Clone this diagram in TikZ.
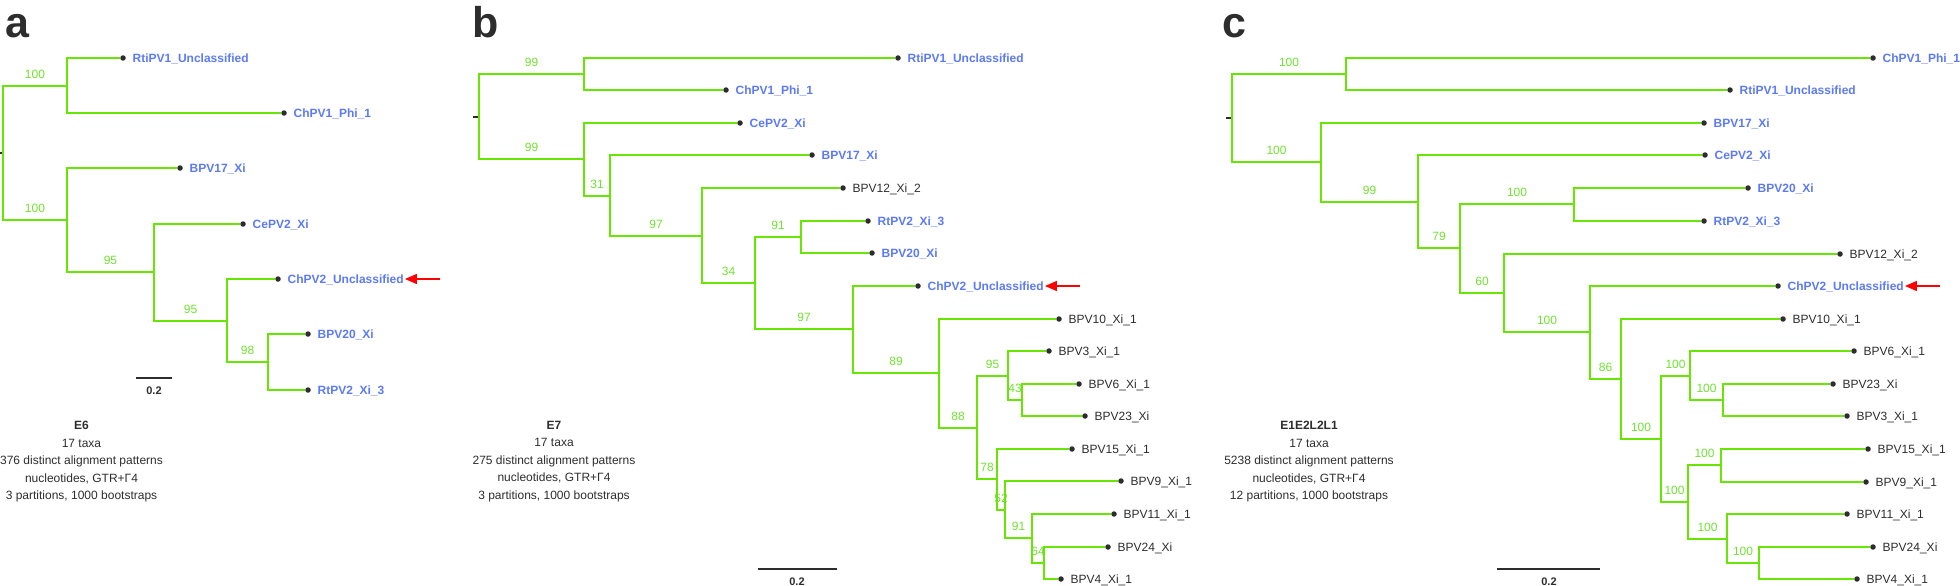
\documentclass[tikz,border=0pt]{standalone}
\usepackage{fontspec}
\setmainfont{Liberation Sans}
\usetikzlibrary{arrows.meta}

\definecolor{branch}{RGB}{102,230,0}
\definecolor{bootgreen}{RGB}{112,226,48}
\definecolor{taxblue}{RGB}{92,122,245}
\definecolor{ink}{RGB}{45,45,45}

\tikzset{
  br/.style={draw= branch, line width= 2pt},
  bs/.style={pos= 0.75, anchor= south, inner sep= 0pt, yshift= 6.5pt, text depth= 0pt,
    text= bootgreen, font= \fontsize{12}{12}\selectfont},
  tip/.style={circle, fill= ink, inner sep= 0pt, minimum size= 5.5pt},
  taxon/.style={anchor= west, inner sep= 1pt, text height= 8.6pt, text depth= 0pt},
  novel/.style={taxon, text= taxblue, font= \fontsize{12}{12}\selectfont\bfseries},
  known/.style={taxon, text= ink, font= \fontsize{12}{12}\selectfont},
  stub/.style={draw= ink, line width= 2pt},
  sbar/.style={draw= ink, line width= 2pt},
  sbarlabel/.style={inner sep= 0pt, text= ink, font= \fontsize{11}{11}\selectfont\bfseries},
  pointer/.style={draw= red, line width= 1.5pt, -{Triangle[length= 12pt, width= 10pt]}},
  panel/.style={anchor= base west, inner sep= 0pt, text= ink, font= \fontsize{43}{43}\selectfont\bfseries},
  caption/.style={anchor= north, align= center, inner sep= 0pt, text= ink, font= \fontsize{12}{17.5}\selectfont}
}

\newcommand{\tipnode}[5]{%
  \node[tip] (#1) at (#2,#3) {};
  \node[#4] (#1L) at ([xshift= 8.5pt]#1.center) {#5};}

\begin{document}
\begin{tikzpicture}[x= 1pt, y= -1pt]
  \useasboundingbox (0,0) rectangle (1960,586);

  % panel a
  \node[panel] (aPanel) at (5,38) {a};
  \coordinate (aStub) at (0,153);
  \coordinate (aR) at (3,153);
  \coordinate (a1) at (67,86);
  \coordinate (a2) at (67,220);
  \coordinate (a3) at (154,272);
  \coordinate (a4) at (227,321);
  \coordinate (a5) at (268,362);
  \tipnode{aRti}{123}{58}{novel}{RtiPV1\_Unclassified}
  \tipnode{aChPV1}{284}{113}{novel}{ChPV1\_Phi\_1}
  \tipnode{aBPV17}{180}{168}{novel}{BPV17\_Xi}
  \tipnode{aCePV2}{243}{224}{novel}{CePV2\_Xi}
  \tipnode{aChPV2}{278}{279}{novel}{ChPV2\_Unclassified}
  \tipnode{aBPV20}{308}{334}{novel}{BPV20\_Xi}
  \tipnode{aRtPV2}{308}{390}{novel}{RtPV2\_Xi\_3}
  \draw[stub] (aStub) -- (aR);
  \draw[br] (aR) |- node[bs] {100} (a1);
  \draw[br] (a1) |- (aRti);
  \draw[br] (a1) |- (aChPV1);
  \draw[br] (aR) |- node[bs] {100} (a2);
  \draw[br] (a2) |- (aBPV17);
  \draw[br] (a2) |- node[bs] {95} (a3);
  \draw[br] (a3) |- (aCePV2);
  \draw[br] (a3) |- node[bs] {95} (a4);
  \draw[br] (a4) |- (aChPV2);
  \draw[br] (a4) |- node[bs] {98} (a5);
  \draw[br] (a5) |- (aBPV20);
  \draw[br] (a5) |- (aRtPV2);
  \coordinate (aTail) at (440,279);
  \draw[pointer] (aTail) -- (aChPV2L);
  \coordinate (aS1) at (136,378);
  \coordinate (aS2) at (172,378);
  \draw[sbar] (aS1) -- (aS2);
  \node[sbarlabel] (aSL) at (154,391) {0.2};
  \node[caption] (aCap) at (81.5,421) {\textbf{E6}\\17 taxa\\376 distinct alignment patterns\\nucleotides, GTR+Γ4\\3 partitions, 1000 bootstraps};

  % panel b
  \node[panel] (bPanel) at (472,38) {b};
  \coordinate (bStub) at (473,117);
  \coordinate (bR) at (479,117);
  \coordinate (b1) at (584,74);
  \coordinate (b2) at (584,159);
  \coordinate (b3) at (610,196);
  \coordinate (b4) at (702,236);
  \coordinate (b5) at (755,283);
  \coordinate (b6) at (801,237);
  \coordinate (b7) at (853,329);
  \coordinate (b8) at (939,373);
  \coordinate (b9) at (977,428);
  \coordinate (b10) at (1008,376);
  \coordinate (b11) at (1022,400);
  \coordinate (b12) at (997,479);
  \coordinate (b13) at (1005,510);
  \coordinate (b14) at (1032,538);
  \coordinate (b15) at (1044,563);
  \tipnode{bRti}{898}{58}{novel}{RtiPV1\_Unclassified}
  \tipnode{bChPV1}{726}{90}{novel}{ChPV1\_Phi\_1}
  \tipnode{bCePV2}{740}{123}{novel}{CePV2\_Xi}
  \tipnode{bBPV17}{812}{155}{novel}{BPV17\_Xi}
  \tipnode{bBPV12}{843}{188}{known}{BPV12\_Xi\_2}
  \tipnode{bRtPV2}{868}{221}{novel}{RtPV2\_Xi\_3}
  \tipnode{bBPV20}{872}{253}{novel}{BPV20\_Xi}
  \tipnode{bChPV2}{918}{286}{novel}{ChPV2\_Unclassified}
  \tipnode{bBPV10}{1059}{319}{known}{BPV10\_Xi\_1}
  \tipnode{bBPV3}{1049}{351}{known}{BPV3\_Xi\_1}
  \tipnode{bBPV6}{1079}{384}{known}{BPV6\_Xi\_1}
  \tipnode{bBPV23}{1085}{416}{known}{BPV23\_Xi}
  \tipnode{bBPV15}{1072}{449}{known}{BPV15\_Xi\_1}
  \tipnode{bBPV9}{1121}{481}{known}{BPV9\_Xi\_1}
  \tipnode{bBPV11}{1114}{514}{known}{BPV11\_Xi\_1}
  \tipnode{bBPV24}{1108}{547}{known}{BPV24\_Xi}
  \tipnode{bBPV4}{1061}{579}{known}{BPV4\_Xi\_1}
  \draw[stub] (bStub) -- (bR);
  \draw[br] (bR) |- node[bs] {99} (b1);
  \draw[br] (b1) |- (bRti);
  \draw[br] (b1) |- (bChPV1);
  \draw[br] (bR) |- node[bs] {99} (b2);
  \draw[br] (b2) |- (bCePV2);
  \draw[br] (b2) |- node[bs] {31} (b3);
  \draw[br] (b3) |- (bBPV17);
  \draw[br] (b3) |- node[bs] {97} (b4);
  \draw[br] (b4) |- (bBPV12);
  \draw[br] (b4) |- node[bs] {34} (b5);
  \draw[br] (b5) |- node[bs] {91} (b6);
  \draw[br] (b6) |- (bRtPV2);
  \draw[br] (b6) |- (bBPV20);
  \draw[br] (b5) |- node[bs] {97} (b7);
  \draw[br] (b7) |- (bChPV2);
  \draw[br] (b7) |- node[bs] {89} (b8);
  \draw[br] (b8) |- (bBPV10);
  \draw[br] (b8) |- node[bs] {88} (b9);
  \draw[br] (b9) |- node[bs] {95} (b10);
  \draw[br] (b10) |- (bBPV3);
  \draw[br] (b10) |- node[bs] {43} (b11);
  \draw[br] (b11) |- (bBPV6);
  \draw[br] (b11) |- (bBPV23);
  \draw[br] (b9) |- node[bs] {78} (b12);
  \draw[br] (b12) |- (bBPV15);
  \draw[br] (b12) |- node[bs] {52} (b13);
  \draw[br] (b13) |- (bBPV9);
  \draw[br] (b13) |- node[bs] {91} (b14);
  \draw[br] (b14) |- (bBPV11);
  \draw[br] (b14) |- node[bs] {64} (b15);
  \draw[br] (b15) |- (bBPV24);
  \draw[br] (b15) |- (bBPV4);
  \coordinate (bTail) at (1080,286);
  \draw[pointer] (bTail) -- (bChPV2L);
  \coordinate (bS1) at (758,569);
  \coordinate (bS2) at (837,569);
  \draw[sbar] (bS1) -- (bS2);
  \node[sbarlabel] (bSL) at (797,582) {0.2};
  \node[caption] (bCap) at (554,421) {\textbf{E7}\\17 taxa\\275 distinct alignment patterns\\nucleotides, GTR+Γ4\\3 partitions, 1000 bootstraps};

  % panel c
  \node[panel] (cPanel) at (1222,38) {c};
  \coordinate (cStub) at (1226,118);
  \coordinate (cR) at (1232,118);
  \coordinate (c1) at (1346,74);
  \coordinate (c2) at (1321,162);
  \coordinate (c3) at (1418,202);
  \coordinate (c4) at (1460,248);
  \coordinate (c5) at (1574,204);
  \coordinate (c6) at (1504,293);
  \coordinate (c7) at (1590,332);
  \coordinate (c8) at (1621,379);
  \coordinate (c9) at (1661,439);
  \coordinate (c10) at (1690,376);
  \coordinate (c11) at (1723,400);
  \coordinate (c12) at (1688,502);
  \coordinate (c13) at (1721,465);
  \coordinate (c14) at (1727,539);
  \coordinate (c15) at (1759,563);
  \tipnode{cChPV1}{1873}{58}{novel}{ChPV1\_Phi\_1}
  \tipnode{cRti}{1730}{90}{novel}{RtiPV1\_Unclassified}
  \tipnode{cBPV17}{1704}{123}{novel}{BPV17\_Xi}
  \tipnode{cCePV2}{1705}{155}{novel}{CePV2\_Xi}
  \tipnode{cBPV20}{1748}{188}{novel}{BPV20\_Xi}
  \tipnode{cRtPV2}{1704}{221}{novel}{RtPV2\_Xi\_3}
  \tipnode{cBPV12}{1840}{254}{known}{BPV12\_Xi\_2}
  \tipnode{cChPV2}{1778}{286}{novel}{ChPV2\_Unclassified}
  \tipnode{cBPV10}{1783}{319}{known}{BPV10\_Xi\_1}
  \tipnode{cBPV6}{1854}{351}{known}{BPV6\_Xi\_1}
  \tipnode{cBPV23}{1833}{384}{known}{BPV23\_Xi}
  \tipnode{cBPV3}{1847}{416}{known}{BPV3\_Xi\_1}
  \tipnode{cBPV15}{1868}{449}{known}{BPV15\_Xi\_1}
  \tipnode{cBPV9}{1866}{482}{known}{BPV9\_Xi\_1}
  \tipnode{cBPV11}{1847}{514}{known}{BPV11\_Xi\_1}
  \tipnode{cBPV24}{1873}{547}{known}{BPV24\_Xi}
  \tipnode{cBPV4}{1857}{579}{known}{BPV4\_Xi\_1}
  \draw[stub] (cStub) -- (cR);
  \draw[br] (cR) |- node[bs] {100} (c1);
  \draw[br] (c1) |- (cChPV1);
  \draw[br] (c1) |- (cRti);
  \draw[br] (cR) |- node[bs] {100} (c2);
  \draw[br] (c2) |- (cBPV17);
  \draw[br] (c2) |- node[bs] {99} (c3);
  \draw[br] (c3) |- (cCePV2);
  \draw[br] (c3) |- node[bs] {79} (c4);
  \draw[br] (c4) |- node[bs] {100} (c5);
  \draw[br] (c5) |- (cBPV20);
  \draw[br] (c5) |- (cRtPV2);
  \draw[br] (c4) |- node[bs] {60} (c6);
  \draw[br] (c6) |- (cBPV12);
  \draw[br] (c6) |- node[bs] {100} (c7);
  \draw[br] (c7) |- (cChPV2);
  \draw[br] (c7) |- node[bs] {86} (c8);
  \draw[br] (c8) |- (cBPV10);
  \draw[br] (c8) |- node[bs] {100} (c9);
  \draw[br] (c9) |- node[bs] {100} (c10);
  \draw[br] (c10) |- (cBPV6);
  \draw[br] (c10) |- node[bs] {100} (c11);
  \draw[br] (c11) |- (cBPV23);
  \draw[br] (c11) |- (cBPV3);
  \draw[br] (c9) |- node[bs] {100} (c12);
  \draw[br] (c12) |- node[bs] {100} (c13);
  \draw[br] (c13) |- (cBPV15);
  \draw[br] (c13) |- (cBPV9);
  \draw[br] (c12) |- node[bs] {100} (c14);
  \draw[br] (c14) |- (cBPV11);
  \draw[br] (c14) |- node[bs] {100} (c15);
  \draw[br] (c15) |- (cBPV24);
  \draw[br] (c15) |- (cBPV4);
  \coordinate (cTail) at (1940,286);
  \draw[pointer] (cTail) -- (cChPV2L);
  \coordinate (cS1) at (1497,569);
  \coordinate (cS2) at (1600,569);
  \draw[sbar] (cS1) -- (cS2);
  \node[sbarlabel] (cSL) at (1549,582) {0.2};
  \node[caption] (cCap) at (1309,421) {\textbf{E1E2L2L1}\\17 taxa\\5238 distinct alignment patterns\\nucleotides, GTR+Γ4\\12 partitions, 1000 bootstraps};
\end{tikzpicture}
\end{document}
